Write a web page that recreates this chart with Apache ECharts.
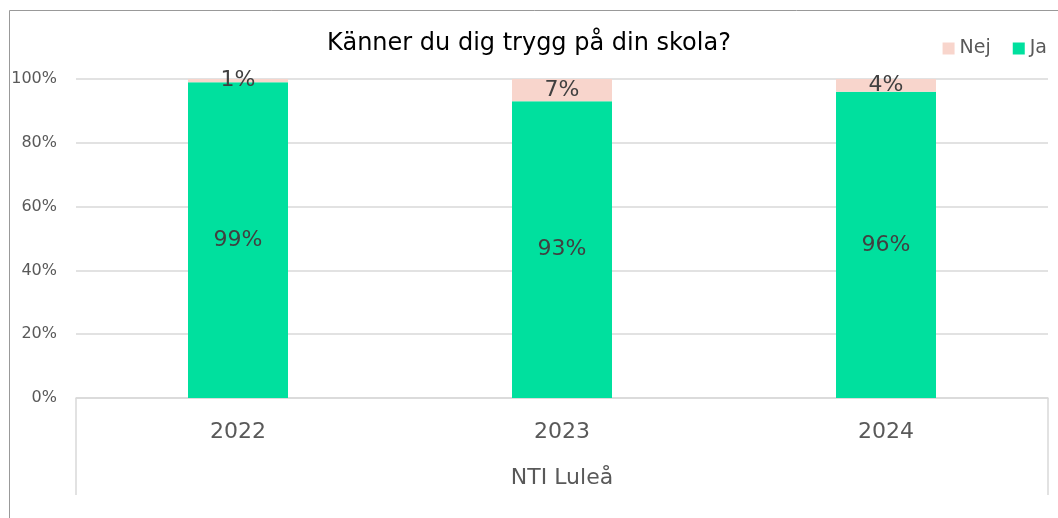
<!DOCTYPE html>
<html>
<head>
<meta charset="utf-8">
<script src="https://cdn.jsdelivr.net/npm/echarts@6/dist/echarts.min.js"></script>
<style>
html, body { margin: 0; padding: 0; background: #fff; }
#chart { width: 1058px; height: 518px; }
</style>
</head>
<body>
<div id="chart"></div>
<script>
var years = ['2022', '2023', '2024'];
var groupName = ['NTI Luleå'];
var ja = [99, 93, 96];
var nej = [1, 7, 4];

var font = '"DejaVu Sans", sans-serif';
var chart = echarts.init(document.getElementById('chart'));

var option = {
    animation: false,
    textStyle: { fontFamily: font },
    title: {
        text: 'Känner du dig trygg på din skola?',
        left: 'center',
        top: 27,
        textStyle: { fontSize: 24, fontWeight: 'normal', color: '#000', fontFamily: font }
    },
    legend: {
        data: ['Nej', 'Ja'],
        right: 6,
        top: 34,
        itemWidth: 12,
        itemHeight: 12,
        itemGap: 22,
        icon: 'rect',
        textStyle: { fontSize: 19, color: '#595959', fontFamily: font }
    },
    graphic: [{
        type: 'rect',
        shape: { x: 9.5, y: 10.5, width: 1200, height: 700 },
        style: { fill: 'none', stroke: '#999', lineWidth: 1 },
        silent: true
    }],
    grid: { left: 76, right: 10, top: 79, bottom: 120 },
    xAxis: [{
        type: 'category',
        data: years,
        axisLine: { lineStyle: { color: '#d9d9d9', width: 1.5 } },
        axisTick: { show: false },
        axisLabel: { fontSize: 22, color: '#595959', margin: 23, fontFamily: font }
    }, {
        type: 'category',
        data: groupName,
        position: 'bottom',
        axisLine: { show: false },
        axisTick: { show: true, length: 97, lineStyle: { color: '#d9d9d9', width: 1.5 } },
        axisLabel: { fontSize: 22, color: '#595959', margin: 69, fontFamily: font }
    }],
    yAxis: {
        type: 'value',
        min: 0,
        max: 100,
        interval: 20,
        axisLine: { show: false },
        axisTick: { show: false },
        splitLine: { lineStyle: { color: '#d9d9d9', width: 1.5 } },
        axisLabel: { formatter: '{value}%', fontSize: 16, color: '#595959', margin: 19, fontFamily: font }
    },
    series: [{
        name: 'Ja',
        type: 'bar',
        stack: 'total',
        data: ja,
        barWidth: 100,
        itemStyle: { color: '#00e09e' },
        label: {
            show: true, position: 'inside', formatter: '{c}%',
            fontSize: 22, color: '#404040', fontFamily: font
        }
    }, {
        name: 'Nej',
        type: 'bar',
        stack: 'total',
        data: nej,
        barWidth: 100,
        itemStyle: { color: '#f8d5cc' },
        label: {
            show: true, position: 'inside', formatter: '{c}%',
            fontSize: 22, color: '#404040', fontFamily: font
        }
    }]
};
chart.setOption(option);
</script>
</body>
</html>
